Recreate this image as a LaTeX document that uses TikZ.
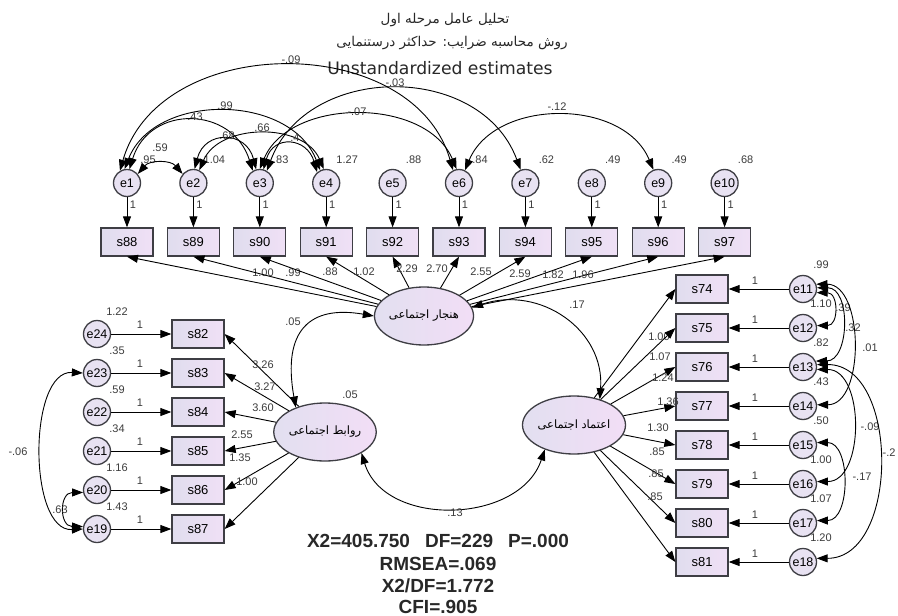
\documentclass[tikz,border=0pt]{standalone}
\usepackage{fontspec}
\setmainfont{Liberation Sans}
\newfontfamily\fa[Script=Arabic]{DejaVu Sans}
\newfontfamily\dv{DejaVu Sans}
\TeXXeTstate=1
\usetikzlibrary{shapes.geometric,arrows.meta}
\definecolor{edgecol}{RGB}{62,62,68}
\definecolor{errfill}{RGB}{232,226,242}
\definecolor{boxL}{RGB}{224,221,238}
\definecolor{boxR}{RGB}{240,224,246}
\definecolor{latL}{RGB}{226,223,240}
\definecolor{latR}{RGB}{242,222,246}
\definecolor{numcol}{RGB}{60,60,60}
\definecolor{txtcol}{RGB}{40,40,40}
\tikzset{
  errnode/.style={circle, draw=edgecol, line width=1.3pt, fill=errfill,
    minimum size=27pt, inner sep=0pt, font=\fontsize{12.5}{12.5}\selectfont},
  obsnode/.style={rectangle, draw=edgecol, line width=1.3pt, left color=boxL,
    right color=boxR, minimum width=52pt, minimum height=28pt, inner sep=0pt,
    font=\fontsize{13}{13}\selectfont},
  latnode/.style={ellipse, draw=edgecol, line width=1.3pt, left color=latL,
    right color=latR, minimum width=98pt, minimum height=58pt, inner sep=0pt,
    font=\fa\fontsize{11.5}{11.5}\selectfont},
  path1/.style={->, line width=0.9pt},
  path2/.style={<->, line width=0.9pt},
  num/.style={font=\fontsize{11}{11}\selectfont, text=numcol, inner sep=0pt},
  stat/.style={font=\bfseries\fontsize{19}{19}\selectfont, text=txtcol, inner sep=0pt},
  ttl/.style={font=\fa\fontsize{13.5}{14}\selectfont, text=txtcol, inner sep=0pt},
}
\begin{document}
\begin{tikzpicture}[x=1pt, y=-1pt, >={Triangle[length=11pt,width=8pt]}]
\useasboundingbox[fill=white] (0,0) rectangle (898,616);

% titles
\node[ttl] (t1) at (445,20) {\beginR تحلیل عامل مرحله اول\endR};
\node[ttl] (t2) at (452,43) {\beginR روش محاسبه ضرایب: حداکثر درستنمایی\endR};
\node[font=\dv\fontsize{17.2}{18}\selectfont, text=txtcol, inner sep=0pt] (t3) at (440,68) {Unstandardized estimates};

% latent factors
\node[latnode] (L1) at (424,316) {\beginR هنجار اجتماعی\endR};
\node[latnode] (L2) at (325,432) {\beginR روابط اجتماعی\endR};
\node[latnode] (L3) at (574,425) {\beginR اعتماد اجتماعی\endR};

% top row: errors e1..e10 and items s88..s97
\foreach \i/\v in {1/.95,2/1.04,3/.83,4/1.27,5/.88,6/.84,7/.62,8/.49,9/.49,10/.68}{
  \pgfmathsetmacro\xx{127+66.4*(\i-1)}
  \pgfmathtruncatemacro\sn{87+\i}
  \node[errnode] (e\i) at (\xx,183) {e\i};
  \node[obsnode] (s\sn) at (\xx,242) {s\sn};
  \draw[path1] (e\i) -- (s\sn);
  \node[num] (one\i) at (\xx+6,205) {1};
  \node[num] (var\i) at (\xx+21,160) {\v};
}

% left block: items s82..s87 with errors e24..e19
\foreach \k/\sn/\en/\v in {0/82/24/1.22,1/83/23/.35,2/84/22/.59,3/85/21/.34,4/86/20/1.16,5/87/19/1.43}{
  \pgfmathsetmacro\yy{334+39*\k}
  \node[obsnode] (s\sn) at (198,\yy) {s\sn};
  \node[errnode] (e\en) at (97,\yy) {e\en};
  \draw[path1] (e\en) -- (s\sn);
  \node[num] (one\en) at (140,\yy-9) {1};
  \node[num] (var\en) at (117,\yy-22) {\v};
}

% right block: items s74..s81 with errors e11..e18
\foreach \k/\sn/\en/\v in {0/74/11/.99,1/75/12/1.10,2/76/13/.82,3/77/14/.43,4/78/15/.50,5/79/16/1.00,6/80/17/1.07,7/81/18/1.20}{
  \pgfmathsetmacro\yy{289+39*\k}
  \node[obsnode] (s\sn) at (702,\yy) {s\sn};
  \node[errnode] (e\en) at (803,\yy) {e\en};
  \draw[path1] (e\en) -- (s\sn);
  \node[num] (one\en) at (755,\yy-8) {1};
  \node[num] (var\en) at (821,\yy-24) {\v};
}

% factor loadings
\foreach \sn/\lab/\lx/\ly in {88/1.00/263/273, 89/.99/293/273, 90/.88/330/272, 91/1.02/364/272,
    92/2.29/407/269, 93/2.70/437/269, 94/2.55/481/272, 95/2.59/520/274, 96/1.82/553/275, 97/1.96/583/275}{
  \draw[path1] (L1) -- (s\sn.south);
  \node[num] (ld\sn) at (\lx,\ly) {\lab};
}
\foreach \sn/\lab/\lx/\ly in {82/3.26/263/365, 83/3.27/265/387, 84/3.60/263/408,
    85/2.55/242/435, 86/1.35/240/458, 87/1.00/247/482}{
  \draw[path1] (L2) -- (s\sn.east);
  \node[num] (ld\sn) at (\lx,\ly) {\lab};
}
\foreach \sn/\lab/\lx/\ly in {74/1.00/659/337, 75/1.07/660/357, 76/1.24/663/378, 77/1.36/668/402,
    78/1.30/658/428, 79/.85/657/452, 80/.85/656/474, 81/.85/655/497}{
  \draw[path1] (L3) -- (s\sn.west);
  \node[num] (ld\sn) at (\lx,\ly) {\lab};
}

% covariances between factors
\draw[path2] (L1.west) .. controls (310,305) and (282,330) .. (L2.140);
\node[num] (c12) at (293,322) {.05};
\draw[path2] (L1.10) .. controls (540,285) and (605,330) .. (L3.45);
\node[num] (c13) at (577,305) {.17};
\draw[path2] (L2.-30) .. controls +(23,75) and +(-25,75) .. (L3.220);
\node[num] (c23) at (455,513) {.13};
\node[num] (vL2) at (350,395) {.05};

% covariances among top errors
\draw[path2] (e1.120) .. controls +(40,-139) and +(-40,-139) .. (e6.115);
\node[num] (k1) at (291,60) {-.09};
\draw[path2] (e1.100) .. controls +(30,-77) and +(-30,-77) .. (e4.115);
\node[num] (k2) at (225,106) {.99};
\draw[path2] (e1.80) .. controls +(20,-65) and +(-20,-65) .. (e3.120);
\node[num] (k3) at (195,117) {.43};
\draw[path2] (e1.40) .. controls +(12,-14) and +(-12,-14) .. (e2.140);
\node[num] (k4) at (160,148) {.59};
\draw[path2] (e2.85) .. controls +(10,-39) and +(-10,-39) .. (e3.105);
\node[num] (k5) at (227,136) {.68};
\draw[path2] (e2.65) .. controls +(20,-47) and +(-20,-47) .. (e4.100);
\node[num] (k6) at (262,128) {.66};
\draw[path2] (e3.75) .. controls +(10,-35) and +(-10,-35) .. (e4.130);
\node[num] (k7) at (295,138) {.4};
\draw[path2] (e3.90) .. controls +(30,-72) and +(-30,-72) .. (e6.100);
\node[num] (k8) at (357,112) {-.07};
\draw[path2] (e3.60) .. controls +(40,-108) and +(-40,-108) .. (e7.110);
\node[num] (k9) at (395,83) {-.03};
\draw[path2] (e6.65) .. controls +(30,-72) and +(-30,-72) .. (e9.110);
\node[num] (k10) at (557,107) {-.12};

% covariances among right errors
\draw[path2] (e11.-15) .. controls +(22,0) and +(22,0) .. (e12.10);
\node[num] (r1) at (843,308) {.39};
\draw[path2] (e11.5) .. controls +(34,0) and +(34,0) .. (e13.25);
\node[num] (r2) at (853,328) {.32};
\draw[path2] (e11.20) .. controls +(48,0) and +(48,0) .. (e14.5);
\node[num] (r3) at (870,348) {.01};
\draw[path2] (e13.-10) .. controls +(48,0) and +(48,0) .. (e16.10);
\node[num] (r4) at (870,427) {-.09};
\draw[path2] (e13.10) .. controls +(83,0) and +(83,0) .. (e18.15);
\node[num] (r5) at (889,453) {-.2};
\draw[path2] (e15.10) .. controls +(34,0) and +(34,0) .. (e17.10);
\node[num] (r6) at (862,477) {-.17};

% covariances among left errors
\draw[path2] (e23.180) .. controls +(-55,-3) and +(-55,3) .. (e19.180);
\node[num] (l1) at (18,452) {-.06};
\draw[path2] (e20.190) .. controls +(-24,0) and +(-24,0) .. (e19.170);
\node[num] (l2) at (60,510) {.63};

% fit statistics
\node[stat] (fit1) at (438,541) {X2=405.750\hspace{15pt}DF=229\hspace{15pt}P=.000};
\node[stat] (fit2) at (438,564) {RMSEA=.069};
\node[stat] (fit3) at (438,586) {X2/DF=1.772};
\node[stat] (fit4) at (438,607) {CFI=.905};
\end{tikzpicture}
\end{document}
